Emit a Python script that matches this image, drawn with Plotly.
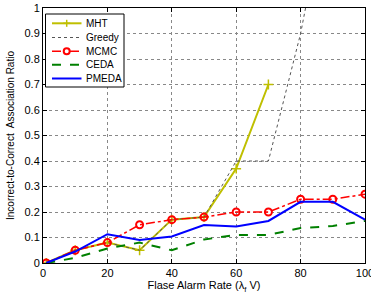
import plotly.graph_objects as go

x = [1, 10, 20, 30, 40, 50, 60, 70, 80, 90, 100]
x_mht = [1, 10, 20, 30, 40, 50, 60, 70]
mht = [0, 0.05, 0.08, 0.05, 0.17, 0.18, 0.37, 0.70]
greedy = [0, 0.05, 0.08, 0.05, 0.17, 0.18, 0.40, 0.40, 0.90, 1.6, 2.2]
mcmc = [0, 0.05, 0.08, 0.15, 0.17, 0.18, 0.20, 0.20, 0.25, 0.25, 0.27]
ceda = [0, 0.02, 0.057, 0.08, 0.05, 0.092, 0.11, 0.11, 0.137, 0.145, 0.165]
pmeda = [0, 0.045, 0.113, 0.09, 0.104, 0.149, 0.143, 0.165, 0.24, 0.24, 0.17]
x_ticks = [0, 20, 40, 60, 80, 100]
y_ticks = [0, 0.1, 0.2, 0.3, 0.4, 0.5, 0.6, 0.7, 0.8, 0.9, 1]
y_tick_labels = ["0", "0.1", "0.2", "0.3", "0.4", "0.5", "0.6", "0.7", "0.8", "0.9", "1"]
series_names = ["MHT", "Greedy", "MCMC", "CEDA", "PMEDA"]

COL = {"MHT": "#bfbf00", "Greedy": "#555555", "MCMC": "#ff0000", "CEDA": "#008000", "PMEDA": "#0000ff"}
DASH = {"MHT": "solid", "Greedy": "dot", "MCMC": "dashdot", "CEDA": "dash", "PMEDA": "solid"}
WID = {"MHT": 2, "Greedy": 1, "MCMC": 1.5, "CEDA": 2, "PMEDA": 2}

W, H = 371, 295
L, R, T, B = 43, 6, 8, 32
PW, PH = W - L - R, H - T - B


def px2paper(px, py):
    return (px - L) / PW, (H - B - py) / PH


fig = go.Figure()
fig.add_trace(go.Scatter(x=x_mht, y=mht, name="MHT", mode="lines+markers",
                         line=dict(color=COL["MHT"], width=WID["MHT"]),
                         marker=dict(symbol="cross-thin", size=7, line=dict(color=COL["MHT"], width=1.5))))
fig.add_trace(go.Scatter(x=x, y=greedy, name="Greedy", mode="lines",
                         line=dict(color=COL["Greedy"], width=WID["Greedy"], dash=DASH["Greedy"])))
fig.add_trace(go.Scatter(x=x, y=mcmc, name="MCMC", mode="lines+markers",
                         line=dict(color=COL["MCMC"], width=WID["MCMC"], dash=DASH["MCMC"]),
                         marker=dict(symbol="circle-open", size=7, color=COL["MCMC"],
                                     line=dict(color=COL["MCMC"], width=2))))
fig.add_trace(go.Scatter(x=x, y=ceda, name="CEDA", mode="lines",
                         line=dict(color=COL["CEDA"], width=WID["CEDA"], dash=DASH["CEDA"])))
fig.add_trace(go.Scatter(x=x, y=pmeda, name="PMEDA", mode="lines",
                         line=dict(color=COL["PMEDA"], width=WID["PMEDA"])))

axis_common = dict(showline=True, linecolor="black", linewidth=1, mirror="ticks",
                   ticks="inside", ticklen=4, tickcolor="black",
                   showgrid=True, gridcolor="#888888", griddash="dot", gridwidth=1,
                   zeroline=False, tickfont=dict(size=11, color="black"), automargin=False,
                   ticklabeloverflow="allow")

fig.update_xaxes(range=[0, 100], tickvals=x_ticks, **axis_common,
                 title=dict(text="Flase Alarm Rate (λ<sub>f</sub> V)", font=dict(size=11, color="black"), standoff=3))
fig.update_yaxes(range=[0, 1], tickvals=y_ticks, ticktext=y_tick_labels, **axis_common,
                 title=dict(text="Incorrect-to-Correct  Association Ratio", font=dict(size=10, color="black"), standoff=8))

# manual compact legend (MATLAB style)
shapes = []
annotations = []
bx0, by0 = px2paper(45.5, 14)
bx1, by1 = px2paper(124, 87)
shapes.append(dict(type="rect", xref="paper", yref="paper", x0=bx0, y0=by1, x1=bx1, y1=by0,
                   line=dict(color="black", width=1), fillcolor="white", layer="above"))
rows_y = [23.3, 37.5, 51.2, 64.8, 78.5]
for name, ry in zip(series_names, rows_y):
    lx0, ly = px2paper(52, ry)
    lx1, _ = px2paper(81.5, ry)
    shapes.append(dict(type="line", xref="paper", yref="paper", x0=lx0, x1=lx1, y0=ly, y1=ly,
                       line=dict(color=COL[name], width=WID[name], dash=DASH[name]), layer="above"))
    tx, _ = px2paper(84, ry)
    annotations.append(dict(text=name, xref="paper", yref="paper", x=tx, y=ly, xanchor="left",
                            yanchor="middle", showarrow=False, font=dict(size=10, color="black")))
# legend marker samples
cx, cy = 66.7, rows_y[0]
for (ax0, ay0, ax1, ay1) in [(cx - 3.5, cy, cx + 3.5, cy), (cx, cy - 3.5, cx, cy + 3.5)]:
    p0 = px2paper(ax0, ay0)
    p1 = px2paper(ax1, ay1)
    shapes.append(dict(type="line", xref="paper", yref="paper", x0=p0[0], y0=p0[1], x1=p1[0], y1=p1[1],
                       line=dict(color=COL["MHT"], width=1.5), layer="above"))
cx, cy = 66.7, rows_y[2]
c0 = px2paper(cx - 3, cy + 3)
c1 = px2paper(cx + 3, cy - 3)
shapes.append(dict(type="circle", xref="paper", yref="paper", x0=c0[0], y0=c0[1], x1=c1[0], y1=c1[1],
                   line=dict(color=COL["MCMC"], width=2), fillcolor="white", layer="above"))

fig.update_layout(width=W, height=H, margin=dict(l=L, r=R, t=T, b=B),
                  paper_bgcolor="white", plot_bgcolor="white",
                  font=dict(family="Liberation Sans, Arial, sans-serif", color="black"),
                  showlegend=False, shapes=shapes, annotations=annotations)

fig.write_html("out.html", config={"displayModeBar": False},
               post_script="document.body.style.margin='0';")
